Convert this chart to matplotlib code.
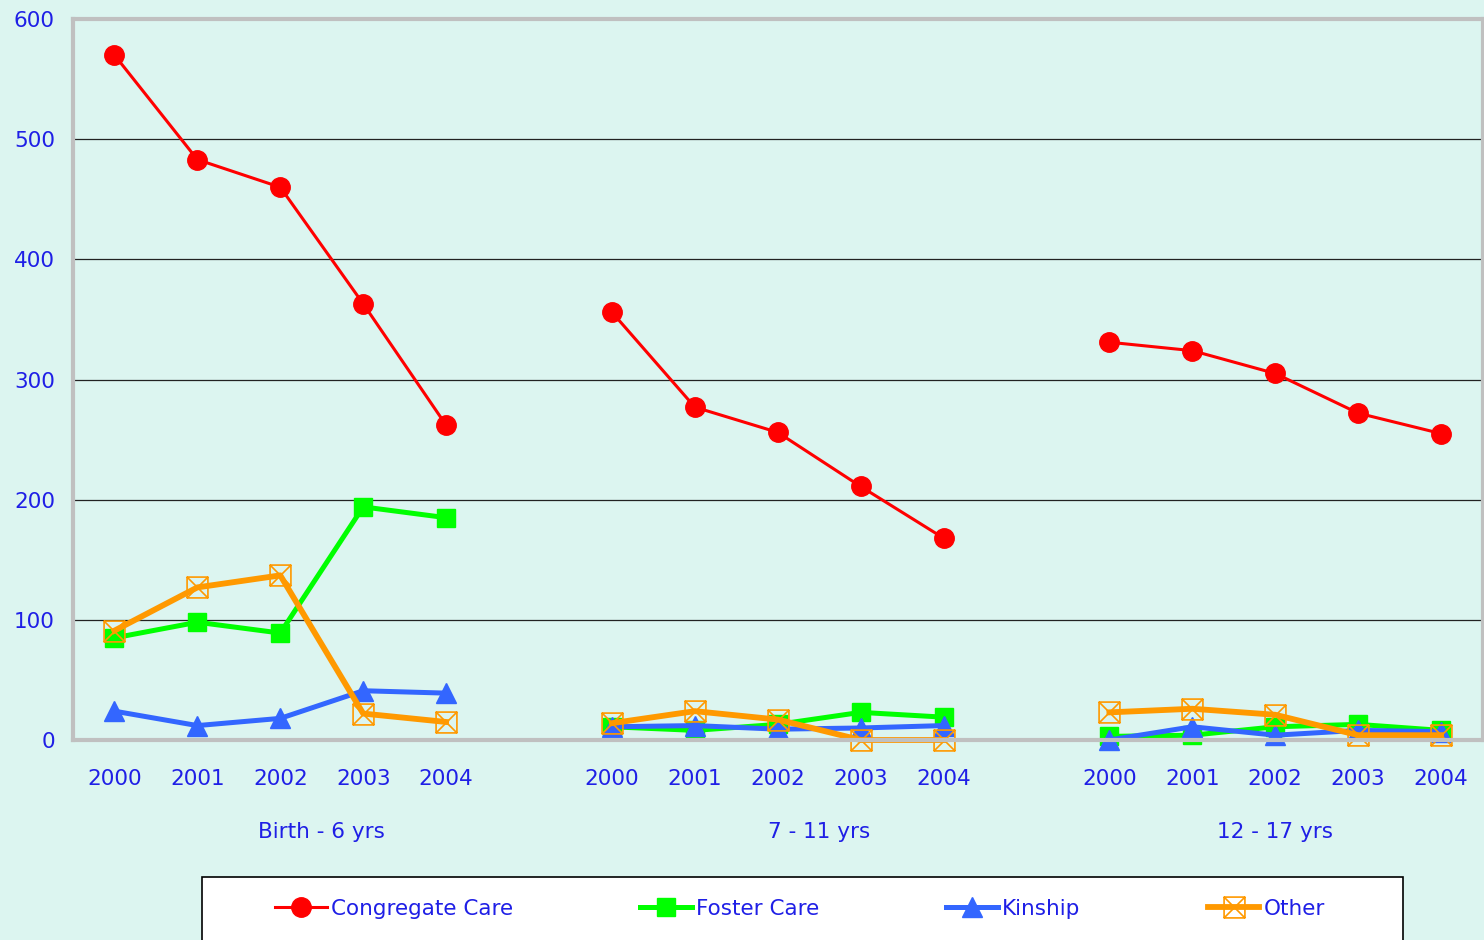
import numpy as np
import matplotlib
matplotlib.use('Agg')
import matplotlib.pyplot as plt
from matplotlib.path import Path
from matplotlib.patches import Rectangle

# chart data
years = ['2000', '2001', '2002', '2003', '2004']
groups = ['Birth - 6 yrs', '7 - 11 yrs', '12 - 17 yrs']
congregate = [570, 483, 460, 363, 262,
              356, 277, 256, 211, 168,
              331, 324, 305, 272, 255]
foster = [85, 98, 89, 194, 185,
          11, 8, 13, 23, 19,
          3, 4, 11, 13, 8]
kinship = [24, 12, 18, 41, 39,
           11, 12, 9, 10, 12,
           0, 11, 4, 8, 7]
other = [91, 127, 137, 22, 15,
         14, 24, 17, 0, 0,
         23, 26, 21, 4, 4]

bg = '#dcf5f0'
txt = '#1f1fe6'

# box with a cross, for "Other"
box_x = Path([(-1, -1), (1, -1), (1, 1), (-1, 1), (-1, -1),
              (-1, -1), (1, 1), (-1, 1), (1, -1)],
             [Path.MOVETO, Path.LINETO, Path.LINETO, Path.LINETO, Path.CLOSEPOLY,
              Path.MOVETO, Path.LINETO, Path.MOVETO, Path.LINETO])

series = [
    ('Congregate Care', congregate, dict(color='#ff0000', lw=2.2, marker='o', ms=14)),
    ('Foster Care', foster, dict(color='#00ff00', lw=3.6, marker='s', ms=13)),
    ('Kinship', kinship, dict(color='#3366ff', lw=3.6, marker='^', ms=14)),
    ('Other', other, dict(color='#ff9900', lw=4.2, marker=box_x, ms=15,
                          mfc='none', mew=1.2)),
]

fig = plt.figure(figsize=(14.84, 9.40), dpi=100, facecolor=bg)
ax = fig.add_axes([73 / 1484, 1 - 740 / 940, 1409.5 / 1484, 721 / 940])
ax.set_facecolor(bg)

n = len(years)
handles = []
for name, vals, st in series:
    for g in range(len(groups)):
        xs = [g * (n + 1) + i for i in range(n)]
        ln, = ax.plot(xs, vals[g * n:(g + 1) * n], label=name, clip_on=False, **st)
    handles.append(ln)

xmax = len(groups) * (n + 1) - 1.5
ax.set_xlim(-0.5, xmax)
ax.set_ylim(0, 600)
ax.set_yticks(range(0, 601, 100))
for yv in range(100, 600, 100):
    ax.axhline(yv, color='#222222', lw=0.9, zorder=0)

xt = [g * (n + 1) + i for g in range(len(groups)) for i in range(n)]
ax.set_xticks(xt)
ax.set_xticklabels(years * len(groups))
ax.tick_params(axis='x', length=0, pad=21, labelsize=15.5, labelcolor=txt)
ax.tick_params(axis='y', length=0, pad=13, labelsize=15.5, labelcolor=txt)

# group labels sit in the middle of each group's span (incl. the spacer slot)
for g, lab in enumerate(groups):
    lo = g * (n + 1) - 0.5
    hi = min(lo + n + 1, xmax)
    ax.text((lo + hi) / 2, -0.127, lab, transform=ax.get_xaxis_transform(),
            ha='center', va='center', fontsize=15.5, color=txt)

for sp in ax.spines.values():
    sp.set_color('#c0c0c0')
    sp.set_linewidth(3)

# legend box
fig.patches.append(Rectangle((202 / 1484, -0.01), 1201 / 1484, 0.01 + 63 / 940,
                             transform=fig.transFigure, facecolor='white',
                             edgecolor='black', lw=1.2, zorder=0))
leg = fig.legend(handles, [s[0] for s in series], loc='center',
                 bbox_to_anchor=(800 / 1484, 1 - 909 / 940), ncol=4,
                 frameon=False, fontsize=15.5, handlelength=2.4,
                 handletextpad=0.2, columnspacing=5.9)
for t in leg.get_texts():
    t.set_color(txt)

fig.savefig('out.png', dpi=100, facecolor=bg)
